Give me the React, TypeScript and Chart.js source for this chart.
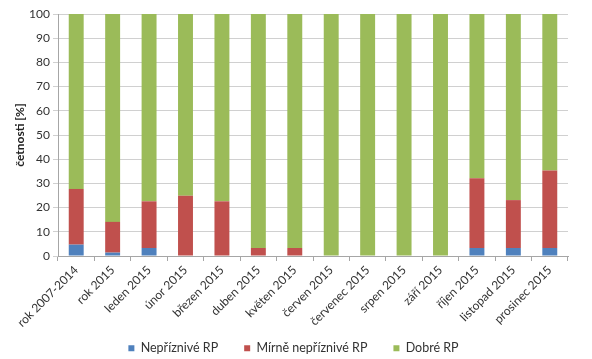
import React, { useEffect, useRef } from "react";
import { Chart, registerables } from "chart.js";

Chart.register(...registerables);

const categories = [
  "rok 2007-2014",
  "rok 2015",
  "leden 2015",
  "únor 2015",
  "březen 2015",
  "duben 2015",
  "květen 2015",
  "červen 2015",
  "červenec 2015",
  "srpen 2015",
  "září 2015",
  "říjen 2015",
  "listopad 2015",
  "prosinec 2015",
];

const nepriznive = [4.7, 1.4, 3.3, 0, 0, 0, 0, 0, 0, 0, 0, 3.3, 3.3, 3.3];
const mirneNepriznive = [23.0, 12.7, 19.3, 24.9, 22.6, 3.3, 3.3, 0, 0, 0, 0, 28.8, 19.8, 32.0];
const dobre = [72.3, 85.9, 77.4, 75.1, 77.4, 96.7, 96.7, 100, 100, 100, 100, 67.9, 76.9, 64.7];

const yTicks = [0, 10, 20, 30, 40, 50, 60, 70, 80, 90, 100];

const FONT = "Lato, 'Open Sans', sans-serif";

const nz = (arr: number[]) => arr.map((v) => (v === 0 ? null : v));

// let rotated x labels extend below the x-scale box (no clipping) and nudge the legend
const layoutTweaks = {
  id: "layoutTweaks",
  afterLayout(chart: any) {
    const x = chart.scales.x;
    if (x) x.bottom = chart.height;
    if (chart.legend) {
      chart.legend.left += 3;
      chart.legend.right += 3;
    }
  },
};

export default function App() {
  const ref = useRef<HTMLCanvasElement | null>(null);

  useEffect(() => {
    if (!ref.current) return;
    const chart = new Chart(ref.current, {
      type: "bar",
      data: {
        labels: categories,
        datasets: [
          { label: "Nepříznivé RP", data: nz(nepriznive), backgroundColor: "#4F81BD" },
          { label: "Mírně nepříznivé RP", data: nz(mirneNepriznive), backgroundColor: "#C0504D" },
          { label: "Dobré RP", data: nz(dobre), backgroundColor: "#9BBB59" },
        ],
      },
      plugins: [layoutTweaks],
      options: {
        animation: false,
        responsive: false,
        maintainAspectRatio: false,
        layout: { padding: { top: 14, right: 24, left: 13, bottom: 0 } },
        datasets: { bar: { categoryPercentage: 1, barPercentage: 0.41 } },
        plugins: {
          tooltip: { enabled: false },
          legend: {
            position: "bottom",
            maxHeight: 43,
            labels: {
              boxWidth: 6,
              boxHeight: 6,
              padding: 26,
              color: "#333",
              font: { family: FONT, size: 12.5 },
            },
          },
        },
        scales: {
          x: {
            stacked: true,
            grid: {
              display: true,
              offset: true,
              drawOnChartArea: false,
              tickLength: 5,
              color: "#a6a6a6",
            },
            border: { color: "#a6a6a6" },
            ticks: {
              maxRotation: 45,
              minRotation: 45,
              autoSkip: false,
              color: "#333",
              font: { family: FONT, size: 12 },
              padding: 2,
            },
            afterFit: (scale: any) => {
              scale.height = 60;
            },
          },
          y: {
            stacked: true,
            min: 0,
            max: 100,
            afterBuildTicks: (scale: any) => {
              scale.ticks = yTicks.map((v) => ({ value: v }));
            },
            grid: { color: "#d0d0d0", tickLength: 5 },
            border: { color: "#a6a6a6" },
            ticks: {
              color: "#333",
              font: { family: FONT, size: 12 },
              padding: 3,
            },
            title: {
              display: true,
              text: "četnosti [%]",
              color: "#222",
              font: { family: FONT, size: 12, weight: "bold" },
              padding: 0,
            },
            afterFit: (scale: any) => {
              scale.width = 45;
            },
          },
        },
      },
    });
    return () => chart.destroy();
  }, []);

  return (
    <div style={{ position: "fixed", left: 0, top: 0, width: 592, height: 359, background: "#fff" }}>
      <canvas ref={ref} width={592} height={359} style={{ display: "block", width: 592, height: 359 }} />
    </div>
  );
}
